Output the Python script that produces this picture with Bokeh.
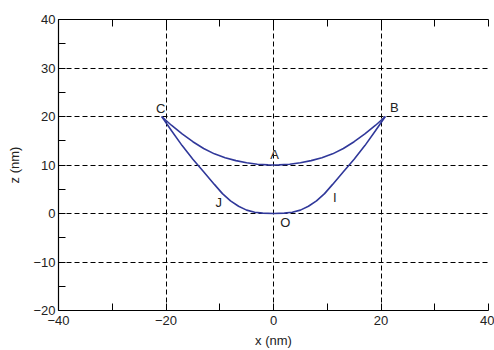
from bokeh.plotting import figure
from bokeh.models import Range1d, FixedTicker, LinearAxis, ColumnDataSource, Grid
from bokeh.core.properties import value
from bokeh.embed import file_html
from bokeh.resources import INLINE

# Upper curve C -> A -> B
upper_x = [-20.8, -19.0, -17.0, -15.0, -13.0, -11.0, -9.0, -7.0, -5.0, -3.0, -1.0, 0.0,
           1.0, 3.0, 5.0, 7.0, 9.0, 11.0, 13.0, 15.0, 17.0, 19.0, 20.8]
upper_z = [20.0, 18.2, 16.4, 14.8, 13.4, 12.3, 11.5, 10.9, 10.45, 10.15, 10.02, 10.0,
           10.02, 10.15, 10.45, 10.9, 11.5, 12.3, 13.4, 14.8, 16.4, 18.2, 20.0]

# Lower curve C -> J -> O -> I -> B
lower_x = [-20.8, -19.0, -17.0, -15.0, -13.0, -11.0, -9.5, -8.0, -6.5, -5.0, -3.5, -2.0, 0.0,
           2.0, 3.5, 5.0, 6.5, 8.0, 9.5, 11.0, 13.0, 15.0, 17.0, 19.0, 20.8]
lower_z = [20.0, 17.1, 14.0, 11.2, 8.6, 6.0, 4.1, 2.6, 1.5, 0.7, 0.25, 0.08, 0.0,
           0.08, 0.25, 0.7, 1.5, 2.6, 4.1, 6.0, 8.6, 11.2, 14.0, 17.1, 20.0]

# Point labels
label_text = ["C", "B", "A", "J", "I", "O"]
label_x = [-21.0, 22.5, 0.2, -10.2, 11.4, 2.2]
label_z = [21.6, 21.8, 12.1, 2.3, 3.3, -1.9]

x_major = [-40, -20, 0, 20, 40]
x_minor = [-30, -10, 10, 30]
y_major = [-20, -10, 0, 10, 20, 30, 40]
y_minor = [-15, -5, 5, 15, 25, 35]

FONT = "Liberation Sans"
TXT = "#222222"
CURVE = "#30389a"

p = figure(width=494, height=350, output_backend="svg", toolbar_location=None,
           x_range=Range1d(-40, 40), y_range=Range1d(-20, 40),
           min_border_left=58, min_border_top=19, min_border_right=6, min_border_bottom=40,
           x_axis_location=None, y_axis_location=None)
p.outline_line_color = None
p.background_fill_color = "white"
p.center = []

def style_axis(ax, ticks, minor, show_labels=True):
    ax.ticker = FixedTicker(ticks=ticks, minor_ticks=minor)
    ax.axis_line_color = "black"
    ax.axis_line_width = 1.2
    ax.major_tick_in = 7
    ax.major_tick_out = 0
    ax.minor_tick_in = 7
    ax.minor_tick_out = 0
    ax.major_tick_line_color = "black"
    ax.minor_tick_line_color = "black"
    ax.major_label_text_font = FONT
    ax.major_label_text_font_size = "13px"
    ax.major_label_text_color = TXT
    ax.axis_label_text_font = FONT
    ax.axis_label_text_font_size = "13px"
    ax.axis_label_text_font_style = "normal"
    ax.axis_label_text_color = TXT
    if not show_labels:
        ax.major_label_text_font_size = "0px"
        ax.major_label_text_alpha = 0

xb = LinearAxis(axis_label="x (nm)")
style_axis(xb, x_major, x_minor)
xb.major_label_overrides = {v: str(v).replace("-", "\u2212") for v in x_major}
xb.major_label_standoff = 5
xb.axis_label_standoff = 5
p.add_layout(xb, "below")

yl = LinearAxis(axis_label="z (nm)")
style_axis(yl, y_major, y_minor)
yl.major_label_overrides = {v: str(v).replace("-", "\u2212") for v in y_major}
yl.major_label_standoff = 3
yl.axis_label_standoff = 8
p.add_layout(yl, "left")

xt = LinearAxis()
style_axis(xt, x_major, x_minor, show_labels=False)
xt.major_label_standoff = 0
p.add_layout(xt, "above")

gx = Grid(dimension=0, ticker=FixedTicker(ticks=x_major), grid_line_color="black",
          grid_line_dash="5 3", grid_line_width=1)
gy = Grid(dimension=1, ticker=FixedTicker(ticks=y_major), grid_line_color="black",
          grid_line_dash="5 3", grid_line_width=1)
p.add_layout(gx)
p.add_layout(gy)

p.line(upper_x, upper_z, line_color=CURVE, line_width=1.6)
p.line(lower_x, lower_z, line_color=CURVE, line_width=1.6)

src = ColumnDataSource(dict(x=label_x, y=label_z, t=label_text))
p.text(x="x", y="y", text="t", source=src, text_font=value(FONT), text_font_size="13px",
       text_color=TXT, text_align="center", text_baseline="middle")

open("out.html", "w").write(file_html(p, INLINE))
